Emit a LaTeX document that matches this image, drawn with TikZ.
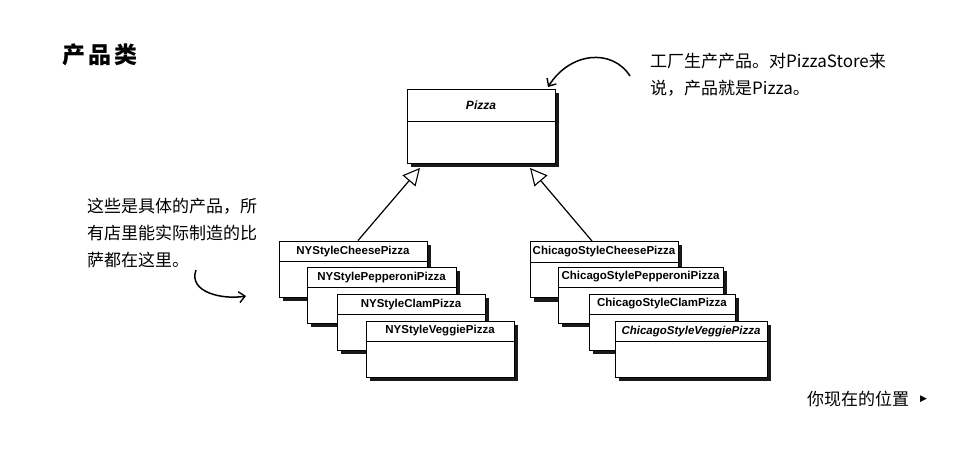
\documentclass[tikz,border=0pt]{standalone}
\usepackage{fontspec}
\setmainfont{Liberation Sans}
\newfontfamily\cjk{Noto Sans CJK SC}
\newfontfamily\dejavu{DejaVu Sans}
\usetikzlibrary{arrows.meta,shadows}
\begin{document}
\begin{tikzpicture}[x=1pt,y=-1pt,
  classbox/.style={draw, line width=0.9pt, fill=white, inner sep=0pt, minimum height=56pt,
    drop shadow={shadow xshift=4pt, shadow yshift=-4pt, fill=black, opacity=0.9}},
  cname/.style={font=\bfseries\fontsize{11.5}{13}\selectfont, inner sep=0pt},
  divider/.style={line width=0.8pt},
  inherit/.style={line width=1.2pt, -{Triangle[open,length=17pt,width=17pt,line width=1.1pt]}},
  hand/.style={line width=1.5pt, -{Straight Barb[length=6pt,width=11pt,line width=1.4pt]}},
  note/.style={font=\cjk\fontsize{17}{27}\selectfont, align=left, inner sep=0pt}
]
\useasboundingbox (0,0) rectangle (956,457);

% title
\node[font=\cjk\bfseries\fontsize{23}{26}\selectfont, anchor=west, inner sep=0pt] (title) at (62,55) {产\hspace{3pt}品\hspace{3pt}类};

% Pizza superclass
\node[classbox, minimum width=148pt, minimum height=74pt] (pizza) at (481,126) {};
\draw[divider] ([yshift=-33pt]pizza.north west) -- ([yshift=-33pt]pizza.north east);
\node[cname, font=\bfseries\itshape\fontsize{12}{14}\selectfont] (pizzalbl) at ([yshift=-17pt]pizza.north) {Pizza};

% NY boxes
\node[classbox, minimum width=148pt] (ny1) at (353,269) {};
\draw[divider] ([yshift=-21pt]ny1.north west) -- ([yshift=-21pt]ny1.north east);
\node[cname] (ny1l) at ([yshift=-10.5pt]ny1.north) {NYStyleCheesePizza};

\node[classbox, minimum width=149pt] (ny2) at (381.5,295) {};
\draw[divider] ([yshift=-21pt]ny2.north west) -- ([yshift=-21pt]ny2.north east);
\node[cname] (ny2l) at ([yshift=-10.5pt]ny2.north) {NYStylePepperoniPizza};

\node[classbox, minimum width=148pt] (ny3) at (411,322) {};
\draw[divider] ([yshift=-21pt]ny3.north west) -- ([yshift=-21pt]ny3.north east);
\node[cname] (ny3l) at ([yshift=-10.5pt]ny3.north) {NYStyleClamPizza};

\node[classbox, minimum width=148pt] (ny4) at (440,349) {};
\draw[divider] ([yshift=-21pt]ny4.north west) -- ([yshift=-21pt]ny4.north east);
\node[cname] (ny4l) at ([yshift=-10.5pt]ny4.north) {NYStyleVeggiePizza};

% Chicago boxes
\node[classbox, minimum width=148pt] (ch1) at (604,269.5) {};
\draw[divider] ([yshift=-21pt]ch1.north west) -- ([yshift=-21pt]ch1.north east);
\node[cname] (ch1l) at ([yshift=-10.5pt]ch1.north) {ChicagoStyleCheesePizza};

\node[classbox, minimum width=165pt] (ch2) at (640.5,295) {};
\draw[divider] ([yshift=-21pt]ch2.north west) -- ([yshift=-21pt]ch2.north east);
\node[cname] (ch2l) at ([yshift=-10.5pt]ch2.north) {ChicagoStylePepperoniPizza};

\node[classbox, minimum width=146pt] (ch3) at (662,322) {};
\draw[divider] ([yshift=-21pt]ch3.north west) -- ([yshift=-21pt]ch3.north east);
\node[cname] (ch3l) at ([yshift=-10.5pt]ch3.north) {ChicagoStyleClamPizza};

\node[classbox, minimum width=152pt] (ch4) at (691,349) {};
\draw[divider] ([yshift=-21pt]ch4.north west) -- ([yshift=-21pt]ch4.north east);
\node[cname, font=\bfseries\itshape\fontsize{11.5}{13}\selectfont] (ch4l) at ([yshift=-10.5pt]ch4.north) {ChicagoStyleVeggiePizza};

% inheritance
\coordinate (tipL) at ([xshift=-61pt,yshift=-4.5pt]pizza.south);
\coordinate (tipR) at ([xshift=49pt,yshift=-4.5pt]pizza.south);
\draw[inherit] ([xshift=5pt]ny1.north) -- (tipL);
\draw[inherit] ([xshift=-12pt]ch1.north) -- (tipR);

% right note
\node[note, anchor=north west] (rnote) at (650,53) {工厂生产产品。对PizzaStore来\\说，产品就是Pizza。};
\coordinate (ra) at (630,76);
\coordinate (rb) at (548,87);
\draw[hand] (ra) .. controls (612,48) and (570,52) .. (rb);

% left note
\node[note, anchor=north west] (lnote) at (87,198) {这些是具体的产品，所\\有店里能实际制造的比\\萨都在这里。};
\coordinate (la) at (196,270);
\coordinate (lb) at (246,296);
\draw[hand] (la) .. controls (188,292) and (222,300) .. (lb);

% footer
\node[font=\cjk\fontsize{17}{19}\selectfont, anchor=west, inner sep=0pt] (here) at (807,399) {你现在的位置};
\node[font=\dejavu\fontsize{9}{10}\selectfont, anchor=west, inner sep=0pt] (herearrow) at (920,399) {▶};
\end{tikzpicture}
\end{document}
